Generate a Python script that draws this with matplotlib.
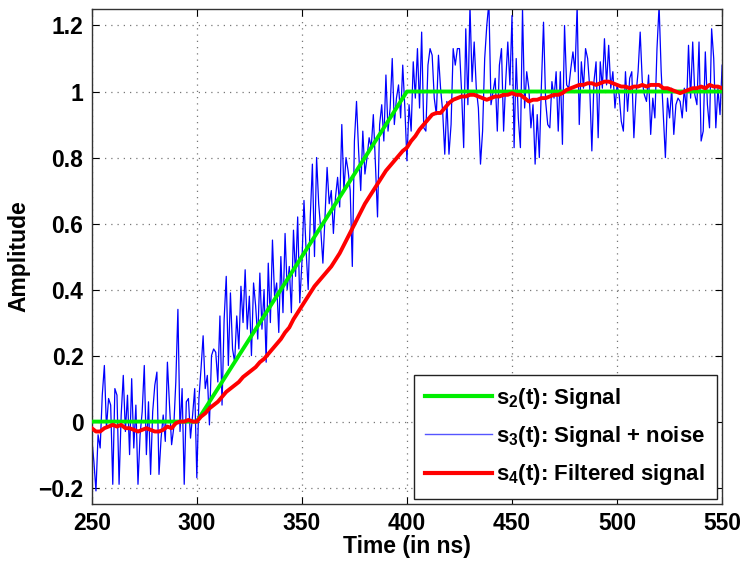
import numpy as np
import matplotlib
matplotlib.use('Agg')
import matplotlib.pyplot as plt
from matplotlib.lines import Line2D

plt.rcParams['font.family'] = ['Liberation Sans', 'DejaVu Sans']
plt.rcParams['font.weight'] = 'bold'
plt.rcParams['mathtext.fontset'] = 'custom'
plt.rcParams['mathtext.bf'] = 'Liberation Sans:bold'
plt.rcParams['mathtext.rm'] = 'Liberation Sans:bold'
plt.rcParams['mathtext.default'] = 'bf'

# s2(t): clean ramp, given by its corner points
t_signal = [250, 300, 400, 550]
s_signal = [0, 0, 1, 1]

# s3(t): signal + noise, one sample per ns from 250 to 550
s_noisy = [
    -0.05, -0.12, -0.21, -0.04, -0.08, 0.08, 0.17, -0.02, 0.07, 0.05,
    -0.19, 0.10, 0.08, -0.19, 0.02, 0.14, -0.03, 0.08, -0.10, 0.13,
    -0.08, 0.05, -0.19, -0.04, 0.03, 0.17, -0.10, 0.06, -0.16, 0.03,
    0.11, 0.15, -0.16, -0.05, 0.02, -0.06, 0.18, 0.05, -0.07, -0.02,
    0.12, 0.34, -0.03, 0.10, -0.19, 0.06, 0.07, -0.05, 0.02, 0.10,
    -0.17, 0.07, 0.16, 0.26, 0.10, 0.14, -0.01, 0.20, 0.22, 0.21,
    0.12, 0.32, 0.05, 0.31, 0.44, 0.17, 0.39, 0.22, 0.18, 0.32,
    0.22, 0.41, 0.30, 0.46, 0.28, 0.38, 0.20, 0.42, 0.35, 0.25,
    0.45, 0.28, 0.40, 0.18, 0.48, 0.30, 0.55, 0.38, 0.42, 0.27,
    0.50, 0.33, 0.57, 0.40, 0.47, 0.33, 0.58, 0.44, 0.62, 0.36,
    0.48, 0.67, 0.52, 0.40, 0.62, 0.78, 0.50, 0.80, 0.66, 0.58,
    0.48, 0.62, 0.77, 0.66, 0.70, 0.57, 0.68, 0.74, 0.65, 0.90,
    0.70, 0.80, 0.76, 0.70, 0.47, 0.85, 0.97, 0.82, 0.70, 0.88,
    0.75, 0.80, 0.86, 0.83, 0.93, 0.78, 0.62, 0.90, 0.96, 0.85,
    1.05, 0.88, 0.95, 1.10, 0.90, 0.98, 1.02, 0.92, 1.08, 0.95,
    0.79, 0.96, 0.88, 1.09, 0.98, 1.13, 0.95, 1.18, 0.89, 0.88,
    1.08, 1.13, 1.11, 0.98, 0.93, 1.11, 1.01, 0.94, 0.81, 0.97,
    0.81, 0.90, 1.13, 1.08, 1.13, 1.13, 1.00, 0.83, 1.19, 0.96,
    1.26, 1.03, 1.15, 1.01, 0.95, 0.78, 0.88, 1.10, 1.20, 1.27,
    0.96, 1.00, 1.04, 0.88, 1.08, 1.13, 0.88, 1.03, 1.15, 1.02,
    1.23, 0.83, 1.10, 0.92, 0.83, 1.25, 0.95, 1.06, 1.01, 0.89,
    0.96, 0.78, 0.93, 0.80, 1.02, 1.21, 0.97, 0.90, 0.89, 1.03,
    0.98, 1.06, 0.88, 1.06, 0.84, 1.20, 1.02, 1.01, 1.07, 1.12,
    1.06, 1.26, 0.90, 1.09, 1.01, 1.13, 1.10, 1.01, 0.82, 1.03,
    1.09, 0.86, 1.09, 1.01, 1.16, 1.02, 1.14, 1.01, 1.06, 0.95,
    1.02, 0.99, 0.91, 0.88, 1.06, 0.94, 1.04, 1.06, 0.86, 0.99,
    1.06, 1.18, 1.03, 0.99, 0.97, 1.05, 0.87, 0.98, 0.92, 1.13,
    1.26, 1.06, 0.93, 0.80, 0.98, 0.92, 1.01, 0.87, 0.96, 0.98,
    0.97, 0.92, 1.01, 0.94, 1.14, 0.98, 1.15, 0.99, 0.96, 1.15,
    0.85, 0.88, 1.12, 0.96, 0.89, 1.19, 1.10, 0.89, 1.01, 0.93,
    1.08,
]
t_noisy = np.arange(250, 250 + len(s_noisy))

# s4(t): filtered signal, read every 2 ns
s_filtered = [
    -0.02, -0.03, -0.03, -0.02, -0.015,
    -0.01, -0.015, -0.01, -0.02, -0.02,
    -0.025, -0.03, -0.025, -0.02, -0.025,
    -0.03, -0.03, -0.025, -0.015, -0.02,
    -0.005, 0.0, 0.0, 0.005, 0.0,
    0.0, 0.015, 0.025, 0.04, 0.05,
    0.06, 0.075, 0.09, 0.10, 0.11,
    0.12, 0.135, 0.145, 0.155, 0.165,
    0.18, 0.19, 0.205, 0.22, 0.235,
    0.25, 0.27, 0.285, 0.31, 0.33,
    0.35, 0.37, 0.39, 0.41, 0.425,
    0.44, 0.455, 0.47, 0.49, 0.51,
    0.535, 0.56, 0.585, 0.61, 0.635,
    0.66, 0.68, 0.70, 0.72, 0.74,
    0.76, 0.775, 0.79, 0.805, 0.82,
    0.83, 0.85, 0.865, 0.885, 0.90,
    0.915, 0.93, 0.935, 0.935, 0.95,
    0.965, 0.975, 0.98, 0.985, 0.985,
    0.99, 0.99, 0.985, 0.98, 0.975,
    0.98, 0.985, 0.985, 0.99, 0.99,
    0.995, 0.99, 0.99, 0.98, 0.97,
    0.975, 0.975, 0.98, 0.98, 0.985,
    0.99, 0.99, 0.995, 1.005, 1.01,
    1.015, 1.02, 1.02, 1.025, 1.025,
    1.02, 1.025, 1.03, 1.03, 1.025,
    1.02, 1.015, 1.015, 1.01, 1.015,
    1.015, 1.02, 1.015, 1.02, 1.02,
    1.02, 1.01, 1.01, 1.005, 1.0,
    0.995, 1.0, 1.005, 1.01, 1.01,
    1.015, 1.01, 1.02, 1.015, 1.015,
    1.01,
]
t_filtered = np.arange(250, 250 + 2 * len(s_filtered), 2)

x_ticks = [250, 300, 350, 400, 450, 500, 550]
y_ticks = [-0.2, 0, 0.2, 0.4, 0.6, 0.8, 1, 1.2]
y_tick_labels = ['\u22120.2', '0', '0.2', '0.4', '0.6', '0.8', '1', '1.2']

legend_labels = ['s$_2$(t): Signal', 's$_3$(t): Signal + noise', 's$_4$(t): Filtered signal']

fig = plt.figure(figsize=(7.46, 5.62), dpi=100)
ax = fig.add_axes([0.123, 0.103, 0.845, 0.881])

ax.plot(t_noisy, s_noisy, color='#0000ff', lw=0.9, zorder=2)
ax.plot(t_signal, s_signal, color='#00ee00', lw=2.8, zorder=3)
ax.plot(t_filtered, s_filtered, color='#ff0000', lw=2.8, zorder=4)

ax.set_xlim(250, 550)
ax.set_ylim(-0.25, 1.25)
ax.set_xticks(x_ticks)
ax.set_yticks(y_ticks)
ax.set_yticklabels(y_tick_labels)
ax.tick_params(direction='in', length=5, width=0.8, top=True, right=True,
               labelsize=16.5, pad=6)
for lab in ax.get_xticklabels() + ax.get_yticklabels():
    lab.set_fontweight('bold')
for sp in ax.spines.values():
    sp.set_linewidth(1.0)
    sp.set_color('#333333')
ax.grid(True, color='#777777', linestyle=(0, (1, 4)), linewidth=0.9)
ax.set_axisbelow(True)

ax.set_xlabel('Time (in ns)', fontsize=16.5, fontweight='bold', labelpad=0)
ax.set_ylabel('Amplitude', fontsize=16.5, fontweight='bold', labelpad=6)

handles = [Line2D([], [], color='#00ee00', lw=3),
           Line2D([], [], color='#5555ff', lw=1),
           Line2D([], [], color='#ff0000', lw=3)]
leg = ax.legend(handles, legend_labels, loc='lower right', fontsize=16,
                frameon=True, fancybox=False, edgecolor='#222222',
                framealpha=1, borderaxespad=0.25, handlelength=3.0,
                handletextpad=0.2, labelspacing=0.6, borderpad=0.5)
leg.get_frame().set_linewidth(1.0)
for txt in leg.get_texts():
    txt.set_fontweight('bold')

fig.savefig('out.png', dpi=100)
